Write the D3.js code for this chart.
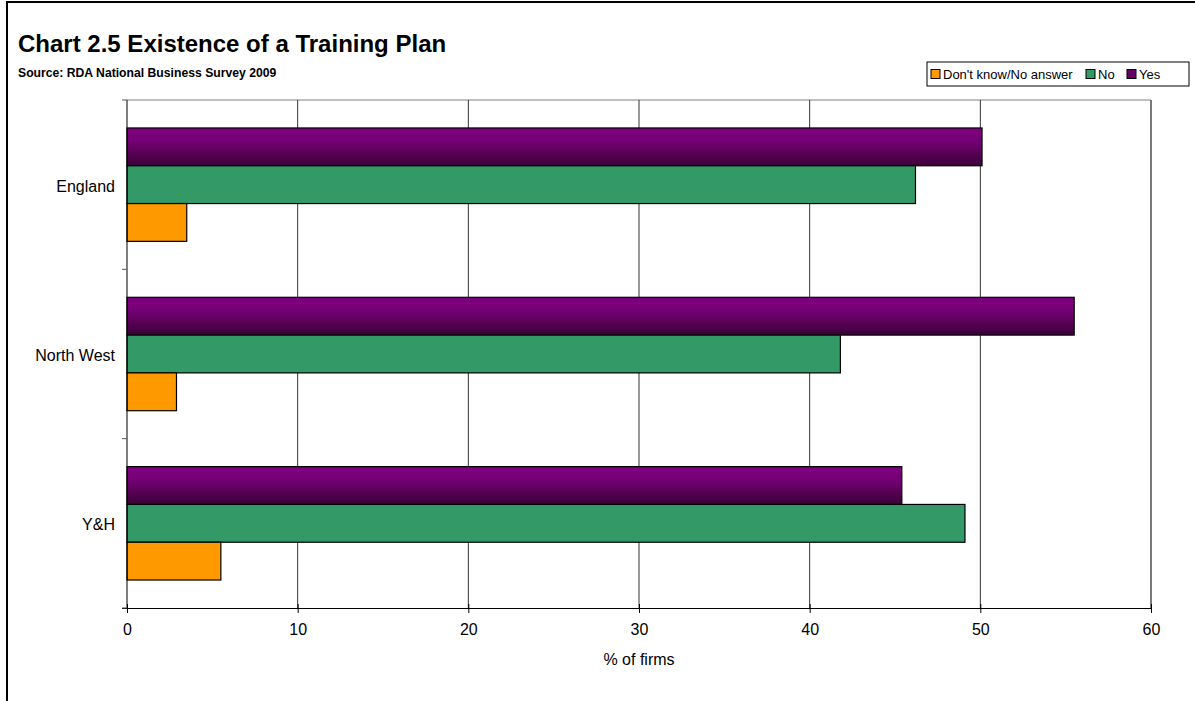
<!DOCTYPE html>
<html>
<head>
<meta charset="utf-8">
<script src="https://cdn.jsdelivr.net/npm/d3@7"></script>
<style>
  body { margin: 0; background: #fff; }
  svg { font-family: "Liberation Sans", Arial, sans-serif; }
</style>
</head>
<body>
<div id="chart"></div>
<script>
// data
const regions = ["England", "North West", "Y&H"];
const seriesNames = ["Yes", "No", "Don't know/No answer"];
const yesValues = [50.1, 55.5, 45.4];
const noValues = [46.2, 41.8, 49.1];
const dkValues = [3.5, 2.9, 5.5];
const xTicks = [0, 10, 20, 30, 40, 50, 60];

const width = 1195, height = 701;
const margin = { top: 100, right: 44, bottom: 93, left: 127 };

const svg = d3.select("#chart").append("svg")
  .attr("width", width)
  .attr("height", height);

// outer frame
svg.append("rect")
  .attr("x", 7).attr("y", 2)
  .attr("width", width + 10).attr("height", height + 10)
  .attr("fill", "none").attr("stroke", "#000").attr("stroke-width", 2);

// gradient for the Yes bars
const defs = svg.append("defs");
const grad = defs.append("linearGradient")
  .attr("id", "purpleGrad")
  .attr("x1", 0).attr("y1", 0).attr("x2", 0).attr("y2", 1);
grad.append("stop").attr("offset", "0%").attr("stop-color", "#800080");
grad.append("stop").attr("offset", "35%").attr("stop-color", "#740074");
grad.append("stop").attr("offset", "100%").attr("stop-color", "#3a0036");

const colors = {
  "Yes": "url(#purpleGrad)",
  "No": "#339966",
  "Don't know/No answer": "#FF9900"
};
const swatch = {
  "Yes": "#660066",
  "No": "#339966",
  "Don't know/No answer": "#FF9900"
};

const x = d3.scaleLinear()
  .domain([0, 60])
  .range([margin.left, width - margin.right]);

const y = d3.scaleBand()
  .domain(regions)
  .range([margin.top, height - margin.bottom]);

const inner = d3.scaleBand()
  .domain(seriesNames)
  .range([0, y.bandwidth()])
  .paddingOuter(0.74);

// title
svg.append("text")
  .attr("x", 18).attr("y", 52)
  .attr("font-size", 24).attr("font-weight", "bold")
  .text("Chart 2.5 Existence of a Training Plan");
svg.append("text")
  .attr("x", 18).attr("y", 77)
  .attr("font-size", 12.2).attr("font-weight", "bold")
  .text("Source: RDA National Business Survey 2009");

// plot border (top/right)
svg.append("path")
  .attr("d", `M${x(0)},${y.range()[0]}H${x(60)}V${y.range()[1]}`)
  .attr("fill", "none").attr("stroke", "#808080");

// vertical gridlines
svg.append("g")
  .selectAll("line")
  .data(xTicks.slice(1))
  .join("line")
  .attr("x1", d => x(d)).attr("x2", d => x(d))
  .attr("y1", y.range()[0]).attr("y2", y.range()[1])
  .attr("stroke", "#333").attr("stroke-width", 1);

// bars
const rows = regions.map((r, i) => ({
  region: r,
  values: [
    { key: "Yes", value: yesValues[i] },
    { key: "No", value: noValues[i] },
    { key: "Don't know/No answer", value: dkValues[i] }
  ]
}));

const groups = svg.append("g")
  .selectAll("g")
  .data(rows)
  .join("g")
  .attr("transform", d => `translate(0,${y(d.region)})`);

groups.selectAll("rect")
  .data(d => d.values)
  .join("rect")
  .attr("x", x(0))
  .attr("y", d => inner(d.key))
  .attr("width", d => x(d.value) - x(0))
  .attr("height", inner.bandwidth())
  .attr("fill", d => colors[d.key])
  .attr("stroke", "#000")
  .attr("stroke-width", 1.2);

// x axis
const xAxis = svg.append("g")
  .attr("transform", `translate(0,${y.range()[1]})`)
  .call(d3.axisBottom(x).tickValues(xTicks).tickSize(5).tickPadding(11).tickSizeOuter(0));
xAxis.select(".domain").attr("stroke", "#000").attr("d", `M${x(0) - 5},0.5H${x(60)}`);
xAxis.selectAll(".tick line").attr("stroke", "#000").attr("y1", -4);
xAxis.selectAll("text").attr("font-size", 16).attr("fill", "#000")
  .attr("font-family", "Liberation Sans, Arial, sans-serif");

svg.append("text")
  .attr("x", (x(0) + x(60)) / 2)
  .attr("y", 665)
  .attr("text-anchor", "middle")
  .attr("font-size", 16)
  .text("% of firms");

// y axis
const yAxisG = svg.append("g").attr("transform", `translate(${x(0)},0)`);
yAxisG.append("line")
  .attr("y1", y.range()[0]).attr("y2", y.range()[1])
  .attr("stroke", "#000");
yAxisG.selectAll("line.tick")
  .data(regions.map(r => y(r)).concat([y.range()[1]]))
  .join("line")
  .attr("class", "tick")
  .attr("x1", -5).attr("x2", 0)
  .attr("y1", d => d).attr("y2", d => d)
  .attr("stroke", "#555");
yAxisG.selectAll("text")
  .data(regions)
  .join("text")
  .attr("x", -12)
  .attr("y", d => y(d) + y.bandwidth() / 2 + 1.5)
  .attr("dy", "0.35em")
  .attr("text-anchor", "end")
  .attr("font-size", 16)
  .text(d => d);

// legend
const legendItems = ["Don't know/No answer", "No", "Yes"];
const legend = svg.append("g");
legend.append("rect")
  .attr("x", 927).attr("y", 62)
  .attr("width", 262).attr("height", 24)
  .attr("fill", "#fff").attr("stroke", "#000");
const lx = [931, 1086, 1127];
const li = legend.selectAll("g.item")
  .data(legendItems)
  .join("g")
  .attr("class", "item")
  .attr("transform", (d, i) => `translate(${lx[i]},74)`);
li.append("rect")
  .attr("x", 0).attr("y", -4.5)
  .attr("width", 9).attr("height", 9)
  .attr("fill", d => swatch[d])
  .attr("stroke", "#000");
li.append("text")
  .attr("x", 12).attr("dy", "0.35em")
  .attr("font-size", 13)
  .text(d => d);
</script>
</body>
</html>
